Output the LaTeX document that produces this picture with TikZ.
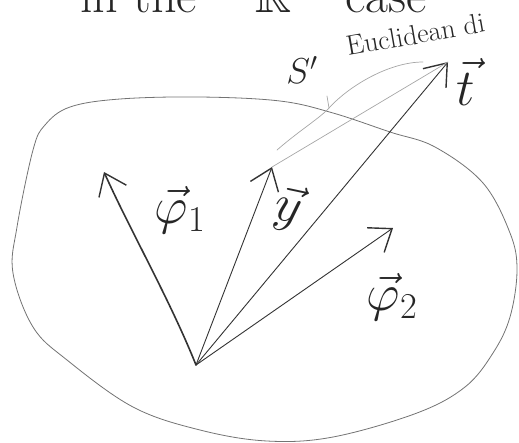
\RequirePackage{fix-cm}
\documentclass[tikz,border=0pt]{standalone}
\usepackage{amssymb}
\usetikzlibrary{arrows.meta}
\begin{document}
\begin{tikzpicture}[x=1pt,y=-1pt,
  vec/.style={draw=black!80, line width=0.9pt, line cap=round,
    -{Straight Barb[length=20pt,width=30pt,line width=1.4pt]}},
  thickvec/.style={vec, line width=1.6pt},
  faint/.style={draw=black!35, line width=0.7pt, line cap=round},
  blob/.style={draw=black!55, line width=0.8pt},
  lbl/.style={inner sep=0pt, text=black!85},
  big/.style={font=\fontsize{52}{58}\selectfont},
  toptxt/.style={lbl, font=\fontsize{50}{56}\selectfont, anchor=base west},
  mid/.style={font=\fontsize{28}{32}\selectfont}]
\useasboundingbox (0,0) rectangle (519,442);
\clip (0,0) rectangle (519,442);
% top text (cut off)
\node[toptxt] (top1) at (80,12) {in the};
\node[toptxt] (top2) at (255,12) {$\mathbb{R}^2$};
\node[toptxt] (top3) at (345,12) {case};
% region
\draw[blob] plot[smooth cycle, tension=0.6] coordinates {
 (33,150) (45,125) (70,107) (120,99) (200,97) (280,101) (333,113) (390,132)
 (435,147) (483,183) (510,233) (517,270) (510,317) (493,353) (465,387)
 (417,413) (333,437) (267,441) (200,430) (133,407) (67,360) (33,327)
 (13,273) (17,227)};
% vectors
\coordinate (O) at (196,365);
\coordinate (p1) at (104,172);
\coordinate (yt) at (272,167);
\coordinate (tt) at (448,62);
\coordinate (p2) at (393,228);
\draw[thickvec] (O) .. controls (170,300) and (130,230) .. (p1);
\draw[vec] (O) -- (yt);
\draw[vec] (O) -- (tt);
\draw[vec] (O) -- (p2);
% Euclidean distance
\draw[faint] (yt) -- (tt);
\draw[faint] (277,150) .. controls (300,130) and (320,118) .. (329,108)
  -- (327,96);
\draw[faint] (329,108) .. controls (350,85) and (390,62) .. (423,62);
% labels
\node[lbl, big] (l1) at (180,210) {$\vec{\varphi}_1$};
\node[lbl, big, rotate=-12] (ly) at (288,208) {$\vec{y}$};
\node[lbl, big] (l2) at (392,297) {$\vec{\varphi}_2$};
\node[lbl, big] (lt) at (466,82) {$\vec{t}$};
\node[lbl, font=\fontsize{36}{42}\selectfont] (ls) at (302,70) {$S'$};
\node[lbl, mid, rotate=10, anchor=base west] (eu) at (348,56) {Euclidean di};
\end{tikzpicture}
\end{document}
